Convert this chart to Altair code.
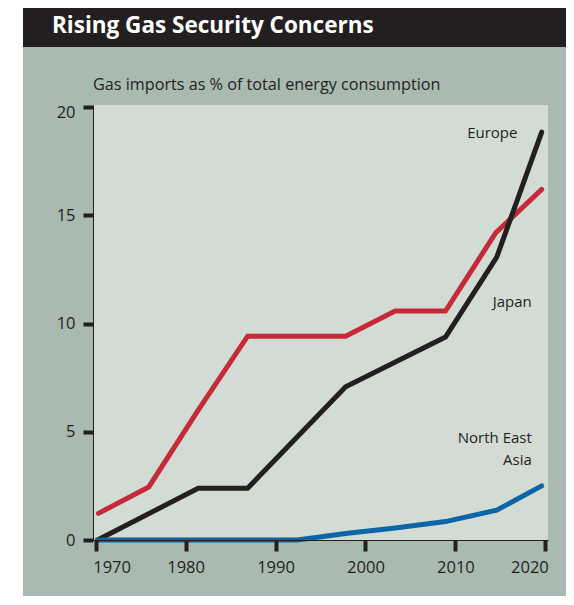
import altair as alt
import pandas as pd

# ---- data ----
years = [1970.3, 1975.9, 1981.4, 1986.9, 1992.4, 1997.8, 2003.3, 2008.9, 2014.5, 2019.6]
japan = [1.23, 2.45, 6.0, 9.42, 9.42, 9.42, 10.58, 10.58, 14.2, 16.2]
europe_years = [1970.2, 1981.4, 1986.9, 1997.8, 2008.9, 2014.6, 2019.6]
europe = [0.0, 2.39, 2.39, 7.08, 9.38, 13.07, 18.85]
nea_years = [1970.2, 1981.4, 1986.9, 1992.4, 1997.8, 2003.3, 2008.9, 2014.6, 2019.6]
nea = [0.0, 0.0, 0.0, 0.0, 0.3, 0.55, 0.85, 1.38, 2.5]

label_text = ["Europe", "Japan", "North East", "Asia"]
label_x = [2016.9, 2018.5, 2018.5, 2018.5]
label_y = [18.8, 11.0, 4.71, 3.7]

x_ticks = [1970, 1980, 1990, 2000, 2010, 2020]
y_ticks = [0, 5, 10, 15, 20]

title_text = "Rising Gas Security Concerns"
subtitle_text = "Gas imports as % of total energy consumption"

INK = "#231f20"
GREEN = "#a9bab0"
PANEL = "#d2dcd5"
FONT = "Open Sans"

rows = []
for y, v in zip(years, japan):
    rows.append({"year": y, "value": v, "series": "Japan"})
for y, v in zip(europe_years, europe):
    rows.append({"year": y, "value": v, "series": "Europe"})
for y, v in zip(nea_years, nea):
    rows.append({"year": y, "value": v, "series": "North East Asia"})
df = pd.DataFrame(rows)

labels = pd.DataFrame({"text": label_text, "year": label_x, "value": label_y})
one = pd.DataFrame({"a": [0]})

W, H = 455, 435

xscale = alt.Scale(domain=[1969.7, 2020.3], nice=False, zero=False)
yscale = alt.Scale(domain=[0, 20.1], nice=False, zero=False)

xaxis = alt.Axis(values=x_ticks, format="d", title=None, grid=False,
                 tickWidth=4, tickSize=11, tickColor=INK,
                 domainColor=INK, domainWidth=1,
                 labelFont=FONT, labelFontSize=16.5, labelColor=INK,
                 labelPadding=8, labelFlush=6, labelFlushOffset=3, zindex=1)
yaxis = alt.Axis(values=y_ticks, title=None, grid=False,
                 tickWidth=4, tickSize=10, tickColor=INK,
                 domainColor=INK, domainWidth=1,
                 labelFont=FONT, labelFontSize=16.5, labelColor=INK,
                 labelPadding=8, zindex=1,
                 labelOffset={"condition": {"test": "datum.value == 20", "value": 5}, "value": 0})

green_bg = alt.Chart(one).mark_rect(color=GREEN).encode(
    x=alt.value(-70), x2=alt.value(490), y=alt.value(-58), y2=alt.value(520))
black_bar = alt.Chart(one).mark_rect(color=INK).encode(
    x=alt.value(-70), x2=alt.value(490), y=alt.value(-97), y2=alt.value(-58))
panel = alt.Chart(one).mark_rect(color=PANEL).encode(
    x=alt.value(0), x2=alt.value(W), y=alt.value(0), y2=alt.value(H))

title = alt.Chart(one).mark_text(
    text=title_text, color="white", font=FONT, fontSize=22.5, fontWeight="bold",
    align="left", baseline="middle").encode(x=alt.value(-41), y=alt.value(-79))
subtitle = alt.Chart(one).mark_text(
    text=subtitle_text, color=INK, font=FONT, fontSize=16.2,
    align="left", baseline="middle").encode(x=alt.value(0), y=alt.value(-20))

lines = alt.Chart(df).mark_line(strokeWidth=5, strokeCap="round").encode(
    x=alt.X("year:Q", scale=xscale, axis=xaxis),
    y=alt.Y("value:Q", scale=yscale, axis=yaxis),
    color=alt.Color("series:N", legend=None,
                    scale=alt.Scale(domain=["Japan", "Europe", "North East Asia"],
                                    range=["#c62a3a", INK, "#0b65a6"])),
    order="year:Q",
)

text = alt.Chart(labels).mark_text(
    color=INK, font=FONT, fontSize=15, align="right", baseline="middle").encode(
    x=alt.X("year:Q", scale=xscale),
    y=alt.Y("value:Q", scale=yscale),
    text="text:N",
)

chart = alt.layer(green_bg, black_bar, panel, title, subtitle, lines, text).properties(
    width=W, height=H,
    autosize=alt.AutoSizeParams(type="none"),
    padding={"left": 85, "top": 97, "right": 18, "bottom": 56},
    background="white",
).configure_view(stroke="transparent")

chart.save("out.html", embed_options={"renderer": "svg", "actions": False})
